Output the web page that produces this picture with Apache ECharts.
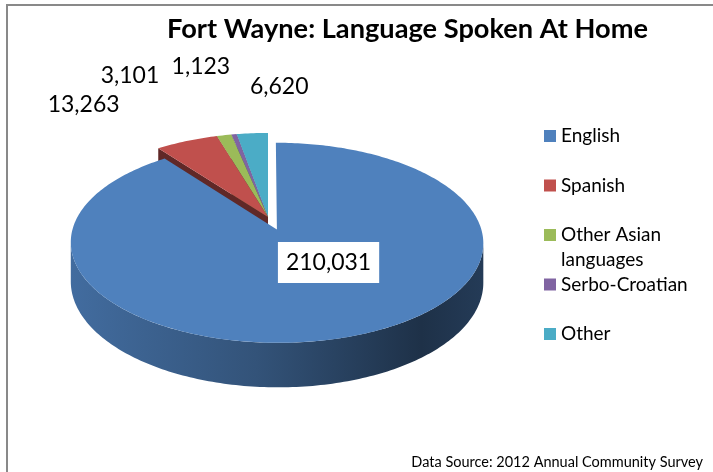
<!DOCTYPE html>
<html><head><meta charset="utf-8">
<script src="https://cdn.jsdelivr.net/npm/echarts@6/dist/echarts.min.js"></script>
<style>html,body{margin:0;padding:0;background:#fff}#c{width:713px;height:472px}</style>
</head><body><div id="c"></div>
<script>
// ---- data ----
const categories = ['English', 'Spanish', 'Other Asian languages', 'Serbo-Croatian', 'Other'];
const values = [210031, 13263, 3101, 1123, 6620];
const legendLabels = ['English', 'Spanish', 'Other Asian\nlanguages', 'Serbo-Croatian', 'Other'];
const colors = ['#4f81bd', '#c0504d', '#9bbb59', '#8064a2', '#4bacc6'];
const exploded = [0.137, 0, 0, 0, 0];
// label placement: anchor radius factor and pixel nudge (Excel labels were dragged by hand)
const labelRadius = [0.55, 1, 1, 1, 1];
const labelNudge = [[12.6, -22], [-103, -36], [-94, -60], [-33, -68], [27, -47]];

// ---- 3D pie geometry (style) ----
const G = { cx: 268, cy: 217, rx: 201, ry: 95, p: 0.13, depth: 38 };
const FONT = 'Lato, "Open Sans", sans-serif';
const LH = 25;

const total = values.reduce((a, b) => a + b, 0);
const starts = [], ends = [];
let acc = 0;
values.forEach(v => { starts.push(acc / total * 2 * Math.PI); acc += v; ends.push(acc / total * 2 * Math.PI); });

function proj(u, v, h) {
  const f = 1 / (1 + G.p * v);
  return [G.cx + G.rx * u * f, G.cy + (-G.ry * v + h) * f];
}
function shade(hex, k) {
  const n = parseInt(hex.slice(1), 16);
  const r = (n >> 16) & 255, g = (n >> 8) & 255, b = n & 255;
  return 'rgb(' + Math.round(r * k) + ',' + Math.round(g * k) + ',' + Math.round(b * k) + ')';
}
const sideStart = Math.acos(-G.p), sideEnd = 2 * Math.PI - Math.acos(-G.p);

function makeRender(i) {
  return function (params, api) {
    const a = starts[i], b = ends[i], m = (a + b) / 2, e = exploded[i];
    const su = e * Math.sin(m), sv = e * Math.cos(m);
    const rim = (t, h, r) => proj(su + (r == null ? 1 : r) * Math.sin(t), sv + (r == null ? 1 : r) * Math.cos(t), h);
    const apex = h => proj(su, sv, h);
    const D = G.depth;
    const base = colors[i];
    const children = [];
    if (Math.sin(a) < -1e-6) {
      children.push({ type: 'polygon', shape: { points: [apex(0), rim(a, 0), rim(a, D), apex(D)] }, style: { fill: shade(base, 0.5) } });
    }
    if (Math.sin(b) > 1e-6) {
      children.push({ type: 'polygon', shape: { points: [apex(0), rim(b, 0), rim(b, D), apex(D)] }, style: { fill: shade(base, 0.5) } });
    }
    const s0 = Math.max(a, sideStart), s1 = Math.min(b, sideEnd);
    if (s1 > s0) {
      const pts = [];
      const n = Math.ceil((s1 - s0) / (Math.PI / 180)) + 1;
      for (let k = 0; k <= n; k++) pts.push(rim(s0 + (s1 - s0) * k / n, 0));
      for (let k = n; k >= 0; k--) pts.push(rim(s0 + (s1 - s0) * k / n, D));
      children.push({
        type: 'polygon', shape: { points: pts },
        style: {
          fill: new echarts.graphic.LinearGradient(0, 0, 1, 0, [
            { offset: 0, color: shade(base, 0.84) },
            { offset: 0.45, color: shade(base, 0.64) },
            { offset: 0.85, color: shade(base, 0.38) },
            { offset: 1, color: shade(base, 0.46) }
          ])
        }
      });
    }
    const top = [apex(0)];
    const nt = Math.max(2, Math.ceil((b - a) / (Math.PI / 180)));
    for (let k = 0; k <= nt; k++) top.push(rim(a + (b - a) * k / nt, 0));
    children.push({ type: 'polygon', shape: { points: top }, style: { fill: base } });
    const lp = rim(m, 0, labelRadius[i]);
    const txt = api.value(0).toLocaleString('en-US');
    const lstyle = { text: txt, x: lp[0] + labelNudge[i][0], y: lp[1] + labelNudge[i][1], align: 'center', verticalAlign: 'middle', font: '23px ' + FONT, fill: '#000' };
    if (i === 0) { lstyle.backgroundColor = '#fff'; lstyle.padding = [9, 8, 9, 8]; }
    children.push({ type: 'text', style: lstyle, z2: 100 });
    return { type: 'group', children: children };
  };
}

const drawOrder = [4, 3, 2, 1, 0];
const series = drawOrder.map(i => ({
  type: 'custom',
  name: categories[i],
  coordinateSystem: 'none',
  itemStyle: { color: colors[i] },
  data: [[values[i]]],
  renderItem: makeRender(i),
  silent: true,
  animation: false
}));

const chart = echarts.init(document.getElementById('c'), null, { renderer: 'canvas' });
chart.setOption({
  animation: false,
  color: colors,
  title: {
    text: 'Fort Wayne: Language Spoken At Home',
    left: 167, top: 16, padding: 0,
    textStyle: { fontFamily: FONT, fontWeight: 'bold', fontSize: 27.2, color: '#000' }
  },
  legend: {
    orient: 'vertical',
    left: 544, top: 98.5, padding: 0,
    itemWidth: 12, itemHeight: 12, itemGap: -25.5,
    icon: 'rect',
    selectedMode: false,
    data: categories,
    // every item is three lines (blank, label, second line or blank) so that the
    // label's first line sits level with the marker
    formatter: name => {
      const t = legendLabels[categories.indexOf(name)];
      return ' \n' + (t.indexOf('\n') >= 0 ? t : t + '\n ');
    },
    textStyle: { fontFamily: FONT, fontSize: 19, color: '#000', lineHeight: LH }
  },
  graphic: [
    { type: 'rect', shape: { x: 7, y: 5, width: 720, height: 480 }, style: { fill: 'none', stroke: '#898989', lineWidth: 2 }, silent: true },
    { type: 'text', x: 703, y: 462, style: { text: 'Data Source: 2012 Annual Community Survey', align: 'right', verticalAlign: 'middle', font: '14.5px ' + FONT, fill: '#000' }, silent: true }
  ],
  series: series
});
</script></body></html>
